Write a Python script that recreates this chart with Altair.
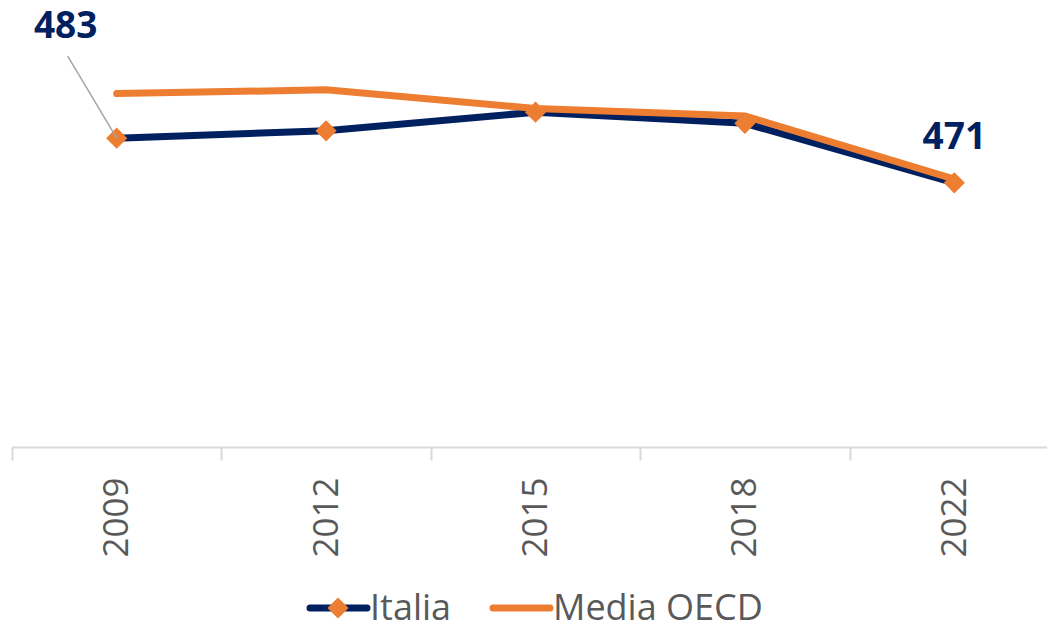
import altair as alt
import pandas as pd

years = ["2009", "2012", "2015", "2018", "2022"]
italia = [483, 485, 490, 487, 471]
oecd = [495, 496, 491, 489, 472]

NAVY = "#002060"
ORANGE = "#ED7D31"
GREY = "#595959"
FONT = "Open Sans"

df_it = pd.DataFrame({"year": years, "value": italia})
df_oe = pd.DataFrame({"year": years, "value": oecd})

xenc = alt.X(
    "year:N",
    sort=years,
    title=None,
    scale=alt.Scale(type="band", paddingInner=0, paddingOuter=0, range=[0, 1047]),
    axis=alt.Axis(
        labelAngle=-90,
        labelFont=FONT,
        labelFontSize=35,
        labelColor=GREY,
        labelPadding=17,
        tickBand="extent",
        tickSize=13,
        tickColor="#d9d9d9",
        tickWidth=2,
        domainColor="#d9d9d9",
        domainWidth=2,
        grid=False,
    ),
)
yenc = alt.Y("value:Q", axis=None, scale=alt.Scale(domain=[400, 518], zero=False, nice=False))

line_it = alt.Chart(df_it).mark_line(color=NAVY, strokeWidth=7, strokeCap="round").encode(x=xenc, y=yenc)
line_oe = alt.Chart(df_oe).mark_line(color=ORANGE, strokeWidth=7, strokeCap="round").encode(x=xenc, y=yenc)
pts = alt.Chart(df_it).mark_point(shape="diamond", filled=True, color=ORANGE, size=450, opacity=1).encode(x=xenc, y=yenc)

leader = alt.Chart(df_it).transform_filter(alt.datum.year == "2009").mark_rule(
    color="#a6a6a6", strokeWidth=1.5, x2Offset=-49, y2Offset=-82
).encode(x=xenc, y=yenc, x2="year:N", y2="value:Q")

lab1 = alt.Chart(df_it).transform_filter(alt.datum.year == "2009").mark_text(
    font=FONT, fontSize=37, fontWeight="bold", color=NAVY, dx=-51, dy=-100, baseline="alphabetic", align="center"
).encode(x=xenc, y=yenc, text="value:Q")
lab2 = alt.Chart(df_it).transform_filter(alt.datum.year == "2022").mark_text(
    font=FONT, fontSize=37, fontWeight="bold", color=NAVY, dy=-34, baseline="alphabetic", align="center"
).encode(x=xenc, y=yenc, text="value:Q")

# manual legend
leg_names = ["Italia", "Media OECD"]
df_leg = pd.DataFrame({"name": leg_names})
LY = 600
TY = 612
leg_it_line = alt.Chart(df_leg).transform_filter(alt.datum.name == "Italia").mark_rule(
    color=NAVY, strokeWidth=7, strokeCap="round"
).encode(x=alt.value(298), x2=alt.value(355), y=alt.value(LY))
leg_it_pt = alt.Chart(df_leg).transform_filter(alt.datum.name == "Italia").mark_point(
    shape="diamond", filled=True, color=ORANGE, size=450, opacity=1
).encode(x=alt.value(326), y=alt.value(LY))
leg_it_txt = alt.Chart(df_leg).transform_filter(alt.datum.name == "Italia").mark_text(
    font=FONT, fontSize=36, color=GREY, align="left", baseline="alphabetic"
).encode(x=alt.value(358), y=alt.value(TY), text="name:N")
leg_oe_line = alt.Chart(df_leg).transform_filter(alt.datum.name == "Media OECD").mark_rule(
    color=ORANGE, strokeWidth=7, strokeCap="round"
).encode(x=alt.value(481), x2=alt.value(538), y=alt.value(LY))
leg_oe_txt = alt.Chart(df_leg).transform_filter(alt.datum.name == "Media OECD").mark_text(
    font=FONT, fontSize=36, color=GREY, align="left", baseline="alphabetic"
).encode(x=alt.value(541), y=alt.value(TY), text="name:N")

chart = alt.layer(
    line_it, line_oe, pts, leader, lab1, lab2,
    leg_it_line, leg_it_pt, leg_it_txt, leg_oe_line, leg_oe_txt,
).properties(
    width=1035,
    height=439,
    autosize=alt.AutoSizeParams(type="none"),
    padding={"left": 4, "top": 0, "right": 0, "bottom": 174},
).configure_view(stroke=None)

chart.save("out.html", embed_options={"renderer": "svg", "actions": False})
